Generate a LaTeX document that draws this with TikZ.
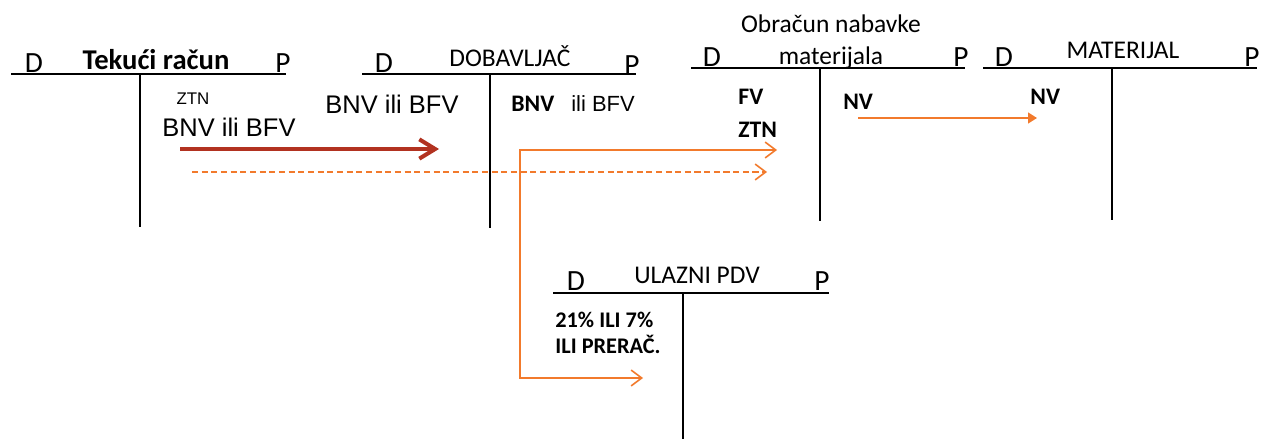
\documentclass[tikz,border=0pt]{standalone}
\usepackage{fontspec}
\setmainfont{Carlito}
\newfontfamily\arial{Liberation Sans}
\usetikzlibrary{arrows.meta}
\definecolor{narandza}{RGB}{242,122,44}
\definecolor{crvena}{RGB}{178,50,32}

\begin{document}
\begin{tikzpicture}[x=0.02cm,y=-0.02cm,
  >={Straight Barb[length=6pt,width=9pt]},
  every node/.style={inner sep=0pt},
  konto/.style={line width=1.1pt},
  dp/.style={font=\fontsize{16.7}{18}\selectfont,anchor=base},
  naslov/.style={font=\fontsize{14.5}{16}\selectfont,anchor=base},
  stavka/.style={font=\bfseries\fontsize{13.5}{15}\selectfont,anchor=base west},
  ari/.style={font=\arial\fontsize{14.5}{16}\selectfont,anchor=base},
  tok/.style={draw=narandza,line width=0.9pt}]
\useasboundingbox (0,0) rectangle (1263,439);

% tekuci racun
\draw[konto] (11,74)--(286,74) (140,74)--(140,227);
\node[dp] (tr-d) at (34,72) {D};
\node[dp] (tr-p) at (283,72) {P};
\node[dp,font=\bfseries\fontsize{16.3}{18}\selectfont] (tr) at (156,70) {Tekući račun};
\node[ari,font=\arial\fontsize{9.6}{11}\selectfont] (tr-ztn) at (193,105) {ZTN};
\node[ari] (tr-bnv) at (229,136) {BNV ili BFV};

% dobavljac
\draw[konto] (362,74)--(636,74) (490,74)--(490,228);
\node[dp] (dob-d) at (384,72) {D};
\node[dp] (dob-p) at (632,74) {P};
\node[naslov] (dob) at (510,67) {DOBAVLJAČ};
\node[ari] (dob-bnv) at (392,113) {BNV ili BFV};
\node[stavka] (dob-b) at (511,112) {BNV};
\node[ari,anchor=base west,font=\arial\fontsize{12.5}{14}\selectfont] (dob-f) at (571,112) {ili BFV};

% obracun nabavke materijala
\draw[konto] (691,68)--(965,68) (820,68)--(820,221);
\node[dp] (obr-d) at (712,67) {D};
\node[dp] (obr-p) at (961,67) {P};
\node[naslov] (obr) at (831,33) {Obračun nabavke};
\node[naslov] (obr2) at (831,65) {materijala};
\node[stavka] (obr-fv) at (738,105) {FV};
\node[stavka] (obr-ztn) at (738,137) {ZTN};
\node[stavka] (obr-nv) at (843,110) {NV};

% materijal
\draw[konto] (983,68)--(1257,68) (1112,68)--(1112,220);
\node[dp] (mat-d) at (1004,67) {D};
\node[dp] (mat-p) at (1252,67) {P};
\node[naslov] (mat) at (1123,59) {MATERIJAL};
\node[stavka] (mat-nv) at (1030,105) {NV};

% ulazni pdv
\draw[konto] (553,293)--(829,293) (683,293)--(683,439);
\node[dp] (pdv-d) at (576,290) {D};
\node[dp] (pdv-p) at (822,290) {P};
\node[naslov] (pdv) at (697,283) {ULAZNI PDV};
\node[stavka,font=\bfseries\fontsize{12.7}{14}\selectfont] (pdv-a) at (555,327) {21\% ILI 7\%};
\node[stavka,font=\bfseries\fontsize{12.7}{14}\selectfont] (pdv-b) at (555,353) {ILI PRERAČ.};

% knjizenja
\coordinate (r1) at (180,149);
\coordinate (r2) at (439,149);
\draw[crvena,line width=2.3pt,-{Straight Barb[length=9pt,width=11pt]}] (r1)--(r2);
\coordinate (c1) at (192,172);
\coordinate (c2) at (767,172);
\draw[tok,dashed,dash pattern=on 3.5pt off 2pt,->] (c1)--(c2);
\coordinate (k1) at (777,150);
\coordinate (k) at (520,150);
\coordinate (k2) at (520,378);
\coordinate (k3) at (643,378);
\draw[tok,<->] (k1)--(k)--(k2)--(k3);
\coordinate (n1) at (858,118);
\coordinate (n2) at (1037,118);
\draw[tok,line width=1.1pt,-{Triangle[length=5pt,width=6pt]}] (n1)--(n2);
\end{tikzpicture}
\end{document}
